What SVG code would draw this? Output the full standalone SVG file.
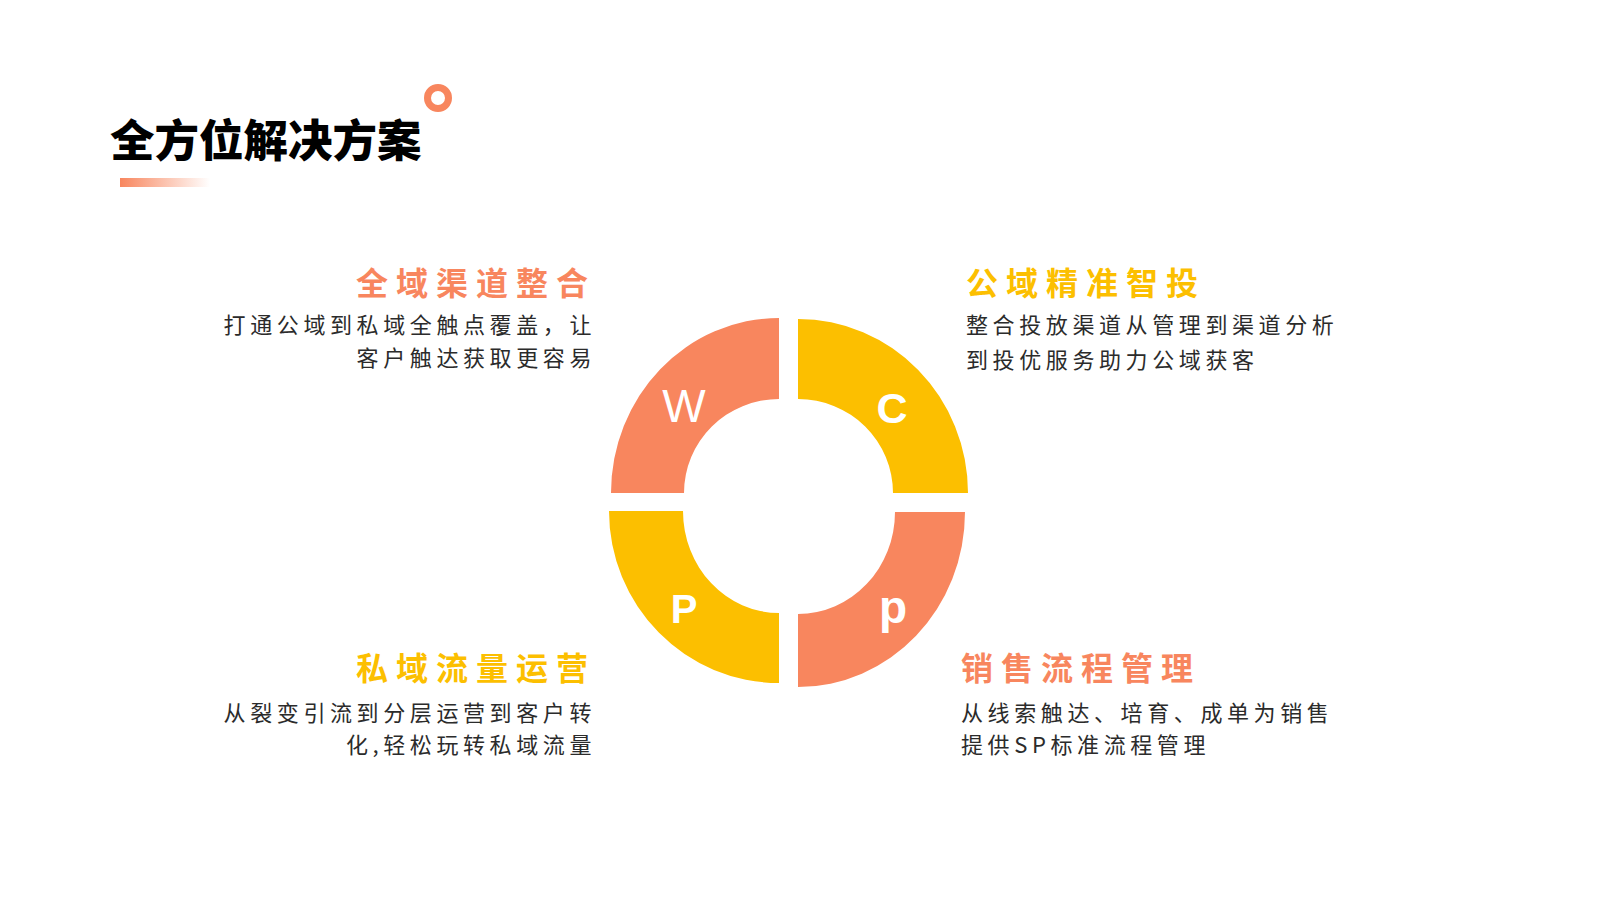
<svg xmlns="http://www.w3.org/2000/svg" width="1600" height="900" viewBox="0 0 1600 900">
  <defs>
    <linearGradient id="barGrad" x1="0" y1="0" x2="1" y2="0">
      <stop offset="0" stop-color="#F8865E"/>
      <stop offset="1" stop-color="#F8865E" stop-opacity="0"/>
    </linearGradient>
    <style>
      .title { font-family: "Noto Sans CJK SC", "Noto Sans", sans-serif; font-weight: 900; font-size: 44.5px; fill: #000000; }
      .head { font-family: "Noto Sans CJK SC", "Noto Sans", sans-serif; font-weight: 700; font-size: 32px; letter-spacing: 8px; }
      .body { font-family: "Noto Sans CJK SC", "Noto Sans", sans-serif; font-weight: 400; font-size: 22px; letter-spacing: 4.6px; fill: #2b2b2b; }
      .orange { fill: #F8865E; }
      .yellow { fill: #FCBF00; }
      .letter { font-family: "Liberation Sans", Arial, sans-serif; fill: #FFFFFF; text-anchor: middle; }
    </style>
  </defs>
  <rect width="1600" height="900" fill="#FFFFFF"/>

  <g id="title">
    <text class="title" x="110" y="157">全方位解决方案</text>
    <circle cx="438" cy="98" r="10.5" fill="none" stroke="#F8865E" stroke-width="7"/>
    <rect x="120" y="178" width="90" height="9" fill="url(#barGrad)"/>
  </g>

  <g id="ring">
    <g id="seg-W">
      <path class="orange" d="M611,493 A168,175 0 0 1 779,318 L779,399 A95,94 0 0 0 684,493 Z"/>
      <text class="letter" x="684" y="422" font-size="46">W</text>
    </g>
    <g id="seg-C">
      <path class="yellow" d="M798,319 A170,174 0 0 1 968,493 L893,493 A95,94 0 0 0 798,399 Z"/>
      <text class="letter" x="892" y="423" font-size="43" font-weight="700">C</text>
    </g>
    <g id="seg-P">
      <path class="yellow" d="M609,511 A170,172 0 0 0 779,683 L779,613 A96,102 0 0 1 683,511 Z"/>
      <text class="letter" x="684" y="623" font-size="40" font-weight="700">P</text>
    </g>
    <g id="seg-p">
      <path class="orange" d="M965,512 A167,175 0 0 1 798,687 L798,614 A97,102 0 0 0 895,512 Z"/>
      <text class="letter" x="893" y="623" font-size="46" font-weight="700">p</text>
    </g>
  </g>

  <g id="node-tl">
    <text class="head orange" x="596" y="295" text-anchor="end">全域渠道整合</text>
    <text class="body" x="596" y="333" text-anchor="end">打通公域到私域全触点覆盖，让</text>
    <text class="body" x="596" y="366" text-anchor="end">客户触达获取更容易</text>
  </g>

  <g id="node-tr">
    <text class="head yellow" x="966" y="295">公域精准智投</text>
    <text class="body" x="966" y="333">整合投放渠道从管理到渠道分析</text>
    <text class="body" x="966" y="368">到投优服务助力公域获客</text>
  </g>

  <g id="node-bl">
    <text class="head yellow" x="596" y="680" text-anchor="end">私域流量运营</text>
    <text class="body" x="596" y="721" text-anchor="end">从裂变引流到分层运营到客户转</text>
    <text class="body" x="596" y="753" text-anchor="end">化,轻松玩转私域流量</text>
  </g>

  <g id="node-br">
    <text class="head orange" x="961" y="680">销售流程管理</text>
    <text class="body" x="961" y="721">从线索触达、培育、成单为销售</text>
    <text class="body" x="961" y="753">提供SP标准流程管理</text>
  </g>

  <g id="connectors"/>
</svg>
